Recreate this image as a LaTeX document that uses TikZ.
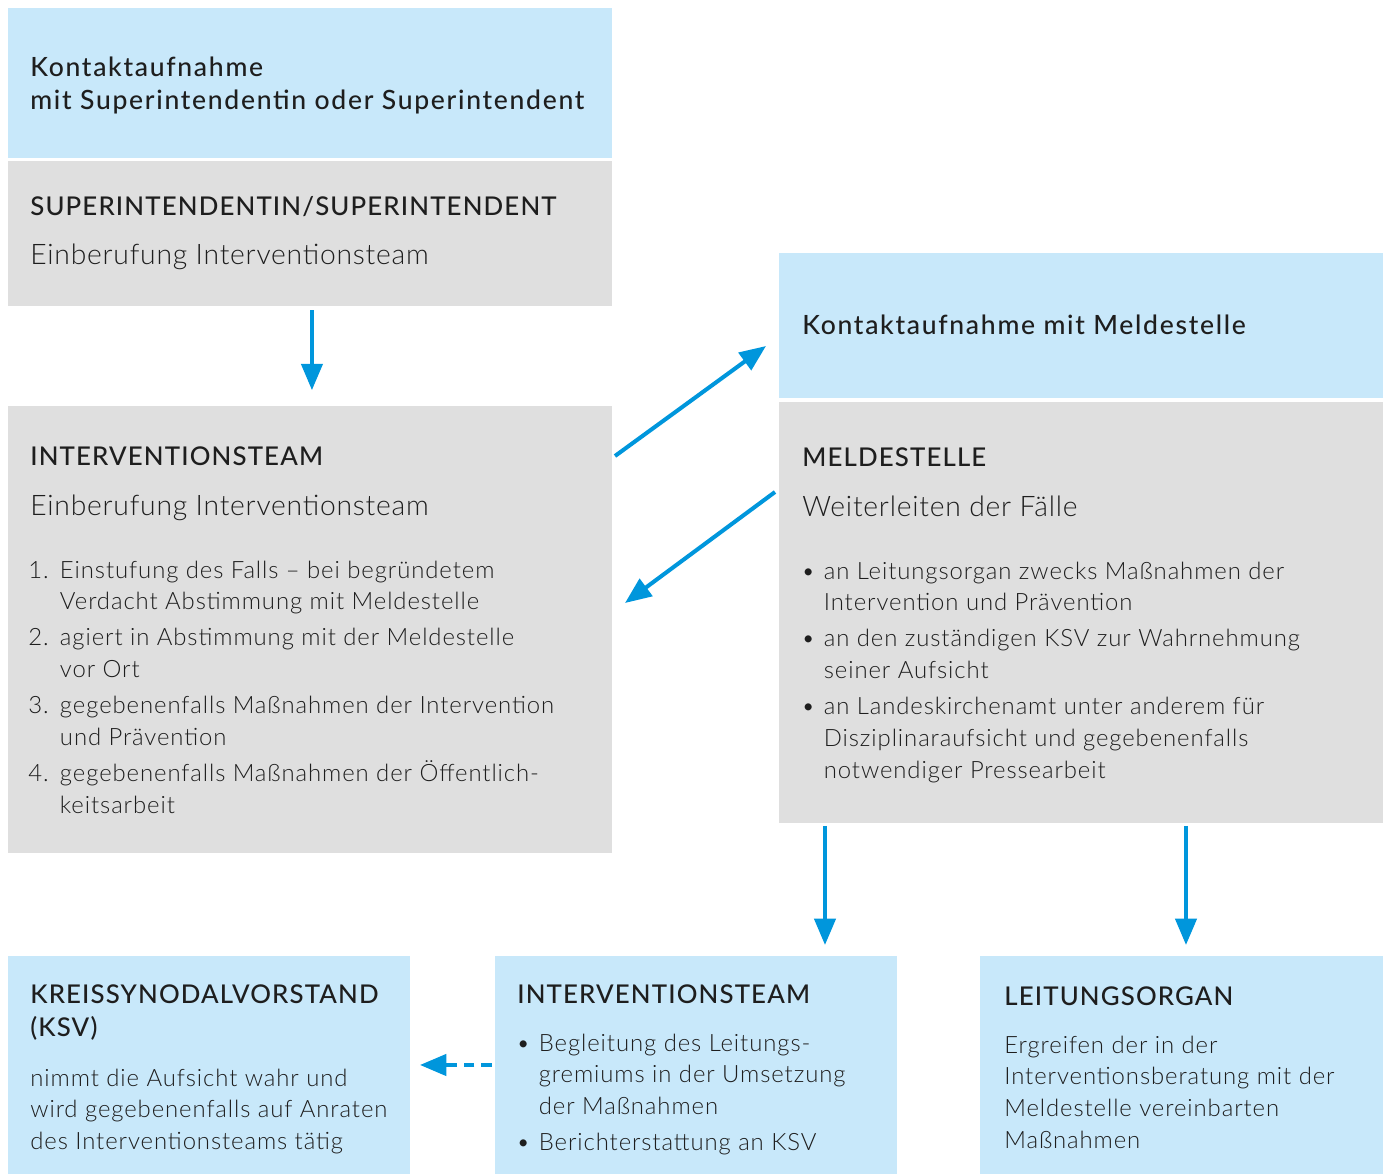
\documentclass[tikz,border=0pt]{standalone}
\usepackage{fontspec}
\setmainfont{Lato}[UprightFont=* Light, BoldFont=* Medium, LetterSpace=3.8]
\newfontfamily\headfam{Lato}[UprightFont=* Medium, LetterSpace=4.4]
\newfontfamily\leadfam{Lato}[UprightFont=* Medium, LetterSpace=6.4]
\newfontfamily\bigfam{Lato}[UprightFont=* Light, LetterSpace=2.7]
\usetikzlibrary{arrows.meta, calc}
\definecolor{boxblue}{RGB}{200, 232, 250}
\definecolor{boxgray}{RGB}{223, 223, 223}
\definecolor{arrowblue}{RGB}{0, 150, 220}
\definecolor{textgray}{RGB}{30, 30, 30}
\newcommand{\ttlfont}{\headfam\fontsize{14.7}{19.3}\selectfont}
\newcommand{\leadfont}{\leadfam\fontsize{15.1}{19.3}\selectfont}
\newcommand{\bigfont}{\bigfam\fontsize{16.1}{18}\selectfont}
\newcommand{\bodyfont}{\fontsize{13.6}{18.14}\selectfont}
\newcommand{\lines}[1]{\begin{tabular}[t]{@{}l@{}}#1\end{tabular}}

\begin{document}
\begin{tikzpicture}[x=0.02cm, y=-0.02cm,
  box/.style={inner sep=0pt, outer sep=0pt, anchor=north west},
  txt/.style={inner sep=0pt, anchor=base west, align=left, text=textgray},
  arrow/.style={-{Triangle[length=15pt, width=12pt]}, line width=2.3pt, arrowblue}
]
  \useasboundingbox (0,0) rectangle (1384,1174);

  % Left column
  \node[box, fill=boxblue, minimum width=12.08cm, minimum height=3cm] (kontsup) at (8,8) {};
  \node[box, fill=boxgray, minimum width=12.08cm, minimum height=2.9cm] (sup) at (8,161) {};
  \node[box, fill=boxgray, minimum width=12.08cm, minimum height=8.94cm] (team) at (8,406) {};

  \node[txt, font=\leadfont] (kontsup-t) at (30,76) {\lines{Kontaktaufnahme\\mit Superintendentin oder Superintendent}};
  \node[txt, font=\ttlfont] (sup-h) at (30,215) {SUPERINTENDENTIN/SUPERINTENDENT};
  \node[txt, font=\bigfont] (sup-t) at (30,264) {Einberufung Interventionsteam};
  \node[txt, font=\ttlfont] (team-h) at (30,465) {INTERVENTIONSTEAM};
  \node[txt, font=\bigfont] (team-t) at (30,515) {Einberufung Interventionsteam};
  \node[txt, font=\bodyfont] (team-l) at (28,578) {%
    \begin{tabular}[t]{@{}p{18pt}@{}l@{}}
      1. & Einstufung des Falls – bei begründetem\\
         & Verdacht Abstimmung mit Meldestelle\\[2.3pt]
      2. & agiert in Abstimmung mit der Meldestelle\\
         & vor Ort\\[2.3pt]
      3. & gegebenenfalls Maßnahmen der Intervention\\
         & und Prävention\\[2.3pt]
      4. & gegebenenfalls Maßnahmen der Öffentlich-\\
         & keitsarbeit
    \end{tabular}};

  % Right column
  \node[box, fill=boxblue, minimum width=12.08cm, minimum height=2.9cm] (kontmeld) at (779,253) {};
  \node[box, fill=boxgray, minimum width=12.08cm, minimum height=8.42cm] (meld) at (779,402) {};

  \node[txt, font=\leadfont] (kontmeld-t) at (802,334) {Kontaktaufnahme mit Meldestelle};
  \node[txt, font=\ttlfont] (meld-h) at (802,466) {MELDESTELLE};
  \node[txt, font=\bigfont] (meld-t) at (802,516) {Weiterleiten der Fälle};
  \node[txt, font=\bodyfont] (meld-l) at (801,579) {%
    \begin{tabular}[t]{@{}p{12.8pt}@{}l@{}}
      • & an Leitungsorgan zwecks Maßnahmen der\\
        & Intervention und Prävention\\[2.3pt]
      • & an den zuständigen KSV zur Wahrnehmung\\
        & seiner Aufsicht\\[2.3pt]
      • & an Landeskirchenamt unter anderem für\\
        & Disziplinaraufsicht und gegebenenfalls\\
        & notwendiger Pressearbeit
    \end{tabular}};

  % Bottom row
  \node[box, fill=boxblue, minimum width=8.04cm, minimum height=4.36cm] (ksv) at (8,956) {};
  \node[box, fill=boxblue, minimum width=8.04cm, minimum height=4.36cm] (mid) at (495,956) {};
  \node[box, fill=boxblue, minimum width=8.06cm, minimum height=4.36cm] (leit) at (980,956) {};

  \node[txt, font=\ttlfont] (ksv-h) at (30,1003) {\lines{KREISSYNODALVORSTAND\\(KSV)}};
  \node[txt, font=\bodyfont] (ksv-t) at (30,1086) {\lines{nimmt die Aufsicht wahr und\\wird gegebenenfalls auf Anraten\\des Interventionsteams tätig}};
  \node[txt, font=\ttlfont] (mid-h) at (517,1003) {INTERVENTIONSTEAM};
  \node[txt, font=\bodyfont] (mid-l) at (516,1051) {%
    \begin{tabular}[t]{@{}p{12.8pt}@{}l@{}}
      • & Begleitung des Leitungs-\\
        & gremiums in der Umsetzung\\
        & der Maßnahmen\\[2.3pt]
      • & Berichterstattung an KSV
    \end{tabular}};
  \node[txt, font=\ttlfont] (leit-h) at (1004,1005) {LEITUNGSORGAN};
  \node[txt, font=\bodyfont] (leit-t) at (1004,1053) {\lines{Ergreifen der in der\\Interventionsberatung mit der\\Meldestelle vereinbarten\\Maßnahmen}};

  % Arrows
  \coordinate (up-s) at (615,456);
  \coordinate (up-e) at (766,346);
  \coordinate (dn-s) at (775,492);
  \coordinate (dn-e) at (625,603);
  \draw[arrow, shorten <=2.3pt, shorten >=9pt] ($(sup.south)+(2,0)$) -- ($(team.north)+(2,0)$);
  \draw[arrow] (up-s) -- (up-e);
  \draw[arrow] (dn-s) -- (dn-e);
  \draw[arrow] ($(meld.south west)+(46,3)$) -- ($(mid.north west)+(330,-11)$);
  \draw[arrow] ($(meld.south west)+(407,3)$) -- ($(leit.north west)+(206,-11)$);
  \draw[arrow, dash pattern=on 6pt off 4pt, shorten <=1.7pt, shorten >=5.7pt] (mid.west) -- (ksv.east);
\end{tikzpicture}
\end{document}
